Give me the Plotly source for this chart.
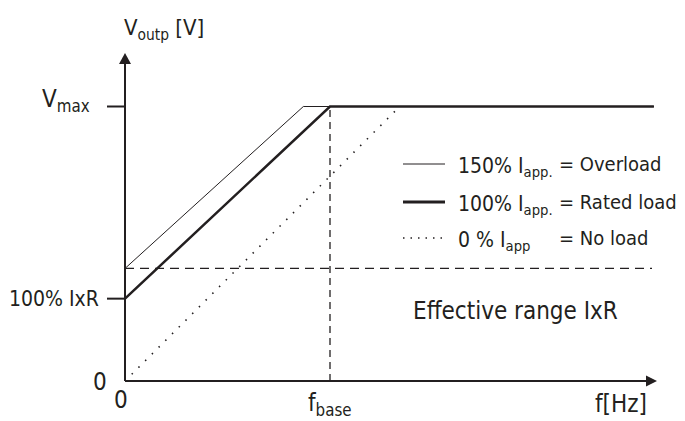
import plotly.graph_objects as go

# per-unit data: f relative to f_base, V relative to V_max
f_overload = [0, 0.87, 2.58]
v_overload = [0.41, 1.0, 1.0]
f_rated = [0, 1.0, 2.58]
v_rated = [0.30, 1.0, 1.0]
f_noload = [0, 1.34]
v_noload = [0, 1.0]

ytick_vals = [0.30, 1.0]
ytick_text = ["100% IxR", "V<sub>max</sub>"]
xtick_vals = [0, 1.0]
xtick_text = ["0", "f<sub>base</sub>"]
effective_level = 0.41

legend_left = ["150% I<sub>app.</sub>", "100% I<sub>app.</sub>", "0 % I<sub>app</sub>"]
legend_right = ["= Overload", "= Rated load", "= No load"]

W, H = 685, 421
PAGE = 8              # body margin of the html page
X0, XS = 125, 205.0   # window pixel of f=0, pixels per unit
Y0, YS = 381, 274.5   # window pixel of V=0, pixels per unit
INK = "#231f20"
FONT = "DejaVu Sans Condensed, sans-serif"


def dx(px):
    return (px - X0) / XS


def dy(py):
    return (Y0 - py) / YS


fig = go.Figure()
fig.add_trace(go.Scatter(x=f_overload, y=v_overload, mode="lines",
                         line=dict(color=INK, width=1), name="150%"))
fig.add_trace(go.Scatter(x=f_rated, y=v_rated, mode="lines",
                         line=dict(color=INK, width=2.5), name="100%"))
fig.add_trace(go.Scatter(x=f_noload, y=v_noload, mode="lines",
                         line=dict(color=INK, width=1.6, dash="1.5px,8px"), name="0%"))

shapes = []
# axes
shapes.append(dict(type="line", x0=0, y0=0, x1=dx(648), y1=0, line=dict(color=INK, width=2)))
shapes.append(dict(type="line", x0=0, y0=0, x1=0, y1=dy(63), line=dict(color=INK, width=2)))
shapes.append(dict(type="path", line=dict(width=0), fillcolor=INK,
                   path=f"M {dx(646)} {dy(375.5)} L {dx(657)} {dy(381)} L {dx(646)} {dy(386.5)} Z"))
shapes.append(dict(type="path", line=dict(width=0), fillcolor=INK,
                   path=f"M {dx(119)} {dy(64)} L {dx(125)} {dy(53)} L {dx(131)} {dy(64)} Z"))
# y ticks
for v in ytick_vals:
    shapes.append(dict(type="line", x0=dx(107), x1=0, y0=v, y1=v, line=dict(color=INK, width=2)))
# guides
shapes.append(dict(type="line", x0=0, x1=dx(652), y0=effective_level, y1=effective_level,
                   line=dict(color=INK, width=1.3, dash="9px,6px")))
shapes.append(dict(type="line", x0=1.0, x1=1.0, y0=0, y1=1.0,
                   line=dict(color=INK, width=1.3, dash="7px,5px")))
# legend samples
rows_y = [164, 202, 238]
styles = [dict(width=1), dict(width=3), dict(width=1.6, dash="1.5px,6px")]
for ry, st in zip(rows_y, styles):
    shapes.append(dict(type="line", x0=dx(403), x1=dx(445), y0=dy(ry), y1=dy(ry),
                       line=dict(color=INK, **st)))

ann = []


def label(text, x, y, xanchor="left", size=24):
    ann.append(dict(text=text, x=x, y=y, xref="x", yref="y", showarrow=False,
                    xanchor=xanchor, yanchor="middle", font=dict(size=size, color=INK, family=FONT)))


label(ytick_text[0], dx(101), ytick_vals[0], xanchor="right", size=21)
label(ytick_text[1], dx(92), dy(100), xanchor="right")
label("0", dx(109), dy(382), xanchor="right")
label(xtick_text[0], dx(121), dy(400), xanchor="center")
label(xtick_text[1], xtick_vals[1], dy(404), xanchor="center")
label("V<sub>outp</sub> [V]", dx(122), dy(29), size=22)
label("f[Hz]", dx(593), dy(404))
label("Effective range IxR", dx(411), dy(311))
for ry, lt, rt in zip(rows_y, legend_left, legend_right):
    label(lt, dx(456), dy(ry + 3), size=21)
    label(rt, dx(557), dy(ry), size=20)

fig.update_layout(
    width=W, height=H, margin=dict(l=0, r=0, t=0, b=0),
    paper_bgcolor="white", plot_bgcolor="white", showlegend=False,
    xaxis=dict(visible=False, range=[dx(PAGE), dx(PAGE + W)]),
    yaxis=dict(visible=False, range=[dy(PAGE + H), dy(PAGE)]),
    shapes=shapes, annotations=ann,
)
fig.write_html("out.html")
